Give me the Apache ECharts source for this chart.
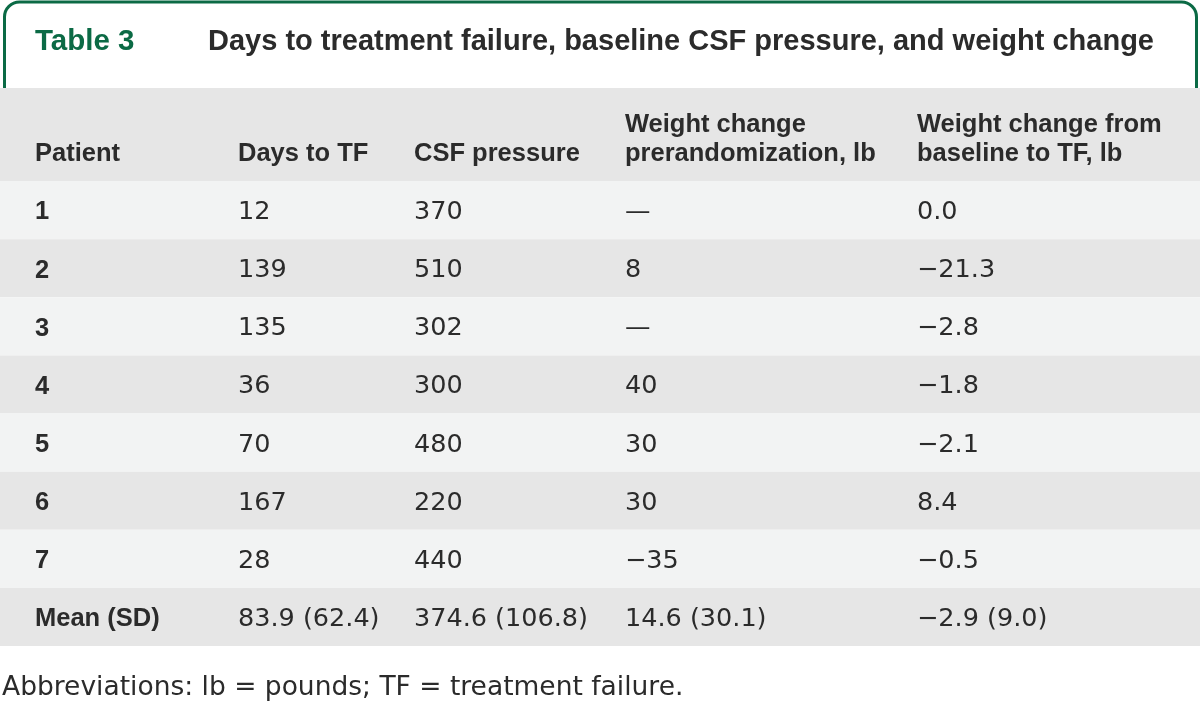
<!DOCTYPE html>
<html>
<head>
<meta charset="utf-8">
<script src="https://cdn.jsdelivr.net/npm/echarts@6/dist/echarts.min.js"></script>
<style>
html,body{margin:0;padding:0;background:#fff;}
#chart{width:1200px;height:703px;}
</style>
</head>
<body>
<div id="chart"></div>
<script>
// ---- data ----
const tableLabel = 'Table 3';
const tableTitle = 'Days to treatment failure, baseline CSF pressure, and weight change';
const headers = ['Patient', 'Days to TF', 'CSF pressure', 'Weight change\nprerandomization, lb', 'Weight change from\nbaseline to TF, lb'];
const patients = ['1', '2', '3', '4', '5', '6', '7', 'Mean (SD)'];
const daysToTF = ['12', '139', '135', '36', '70', '167', '28', '83.9 (62.4)'];
const csfPressure = ['370', '510', '302', '300', '480', '220', '440', '374.6 (106.8)'];
const weightPre = ['—', '8', '—', '40', '30', '30', '−35', '14.6 (30.1)'];
const weightTF = ['0.0', '−21.3', '−2.8', '−1.8', '−2.1', '8.4', '−0.5', '−2.9 (9.0)'];
const footnote = 'Abbreviations: lb = pounds; TF = treatment failure.';

// ---- layout ----
const colX = [35, 238, 414, 625, 917];
const headerSpan = 1.6;
const BOLD_FONT = '"Liberation Sans", Arial, sans-serif';
const BODY_FONT = '"DejaVu Sans", sans-serif';
const TEXT = '#2b2b2b';
const GREEN = '#0b6a45';
const DARK_BG = '#e6e6e6';
const LIGHT_BG = '#f2f3f3';

const columns = [patients, daysToTF, csfPressure, weightPre, weightTF];
const nRows = patients.length;

// bands: header + rows
const bandData = [[-headerSpan, 0, 1]];
for (let r = 0; r < nRows; r++) bandData.push([r, r + 1, r % 2 === 0 ? 0 : 1]);

// cells: [x, y, text, bold]
const cellData = [];
headers.forEach((h, c) => {
  const lines = h.split('\n');
  lines.forEach((ln, k) => {
    const fromBottom = lines.length - 1 - k;
    cellData.push([colX[c], -0.47 - fromBottom * 0.49, ln, 1]);
  });
});
columns.forEach((col, c) => {
  col.forEach((v, r) => {
    cellData.push([colX[c], r + 0.54, v, c === 0 ? 1 : 0]);
  });
});

const chart = echarts.init(document.getElementById('chart'), null, {renderer: 'canvas'});
chart.setOption({
  backgroundColor: '#ffffff',
  animation: false,
  title: [
    {text: tableLabel, left: 35, top: 27, padding: 0, textStyle: {fontFamily: BOLD_FONT, fontSize: 29.5, fontWeight: 'bold', color: GREEN}},
    {text: tableTitle, left: 208, top: 27, padding: 0, textStyle: {fontFamily: BOLD_FONT, fontSize: 29, fontWeight: 'bold', color: TEXT}},
    {text: footnote, left: 2, top: 675, padding: 0, textStyle: {fontFamily: BODY_FONT, fontSize: 26.5, fontWeight: 'normal', color: TEXT}}
  ],
  graphic: [{
    type: 'rect',
    z: -10,
    shape: {x: 4.5, y: 2, width: 1192, height: 140, r: [15, 15, 0, 0]},
    style: {fill: 'none', stroke: GREEN, lineWidth: 3}
  }],
  grid: {left: 0, right: 0, top: 88, bottom: 57},
  xAxis: {type: 'value', min: 0, max: 1200, show: false},
  yAxis: {type: 'value', min: -headerSpan, max: nRows, inverse: true, show: false},
  series: [
    {
      type: 'custom',
      z: 5,
      data: bandData,
      renderItem: function (params, api) {
        const p0 = api.coord([0, api.value(0)]);
        const p1 = api.coord([1200, api.value(1)]);
        return {
          type: 'rect',
          shape: {x: p0[0], y: p0[1], width: p1[0] - p0[0], height: p1[1] - p0[1]},
          style: {fill: api.value(2) === 1 ? DARK_BG : LIGHT_BG}
        };
      },
      silent: true
    },
    {
      type: 'custom',
      z: 6,
      data: cellData,
      renderItem: function (params, api) {
        const item = cellData[params.dataIndex];
        const p = api.coord([item[0], item[1]]);
        const bold = item[3] === 1;
        return {
          type: 'text',
          x: p[0], y: p[1],
          style: {
            text: item[2],
            fontFamily: bold ? BOLD_FONT : BODY_FONT,
            fontSize: bold ? 25.5 : 25.5,
            fontWeight: bold ? 'bold' : 'normal',
            fill: TEXT,
            textAlign: 'left',
            textVerticalAlign: 'middle'
          }
        };
      },
      silent: true
    }
  ]
});
</script>
</body>
</html>
